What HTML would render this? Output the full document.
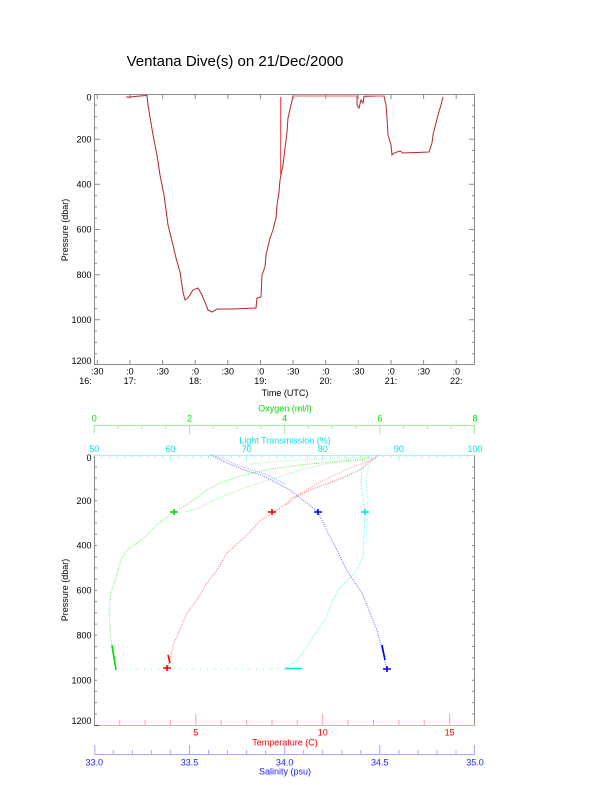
<!DOCTYPE html>
<html><head><meta charset="utf-8">
<style>
html,body{margin:0;padding:0;background:#fff;}
svg{display:block;font-family:"Liberation Sans",Arial,sans-serif;}
</style></head>
<body>
<svg width="612" height="785" viewBox="0 0 612 785" xmlns="http://www.w3.org/2000/svg">
<rect width="612" height="785" fill="#fff"/>
<!-- Title -->
<text x="235" y="66" font-size="15" text-anchor="middle" fill="#000">Ventana Dive(s) on 21/Dec/2000</text>

<!-- ============ TOP PLOT ============ -->
<g stroke="#8c8c8c" stroke-width="1" fill="none">
<rect x="94.5" y="94.5" width="380" height="270"/>
<path d="M94 105.3h3M94 116.6h3M94 127.9h3M94 139.2h6M94 150.5h3M94 161.7h3M94 173h3M94 184.3h6M94 195.6h3M94 206.9h3M94 218.2h3M94 229.5h6M94 240.8h3M94 252.1h3M94 263.4h3M94 274.7h6M94 286h3M94 297.3h3M94 308.5h3M94 319.8h6M94 331.1h3M94 342.4h3M94 353.7h3"/>
<path d="M475 105.3h-3M475 116.6h-3M475 127.9h-3M475 139.2h-6M475 150.5h-3M475 161.7h-3M475 173h-3M475 184.3h-6M475 195.6h-3M475 206.9h-3M475 218.2h-3M475 229.5h-6M475 240.8h-3M475 252.1h-3M475 263.4h-3M475 274.7h-6M475 286h-3M475 297.3h-3M475 308.5h-3M475 319.8h-6M475 331.1h-3M475 342.4h-3M475 353.7h-3"/>
<path d="M97.3 94v5M129.9 94v5M162.6 94v5M195.2 94v5M227.8 94v5M260.5 94v5M293.1 94v5M325.7 94v5M358.3 94v5M391 94v5M423.6 94v5M456.2 94v5"/>
<path d="M97.3 365v-5M129.9 365v-5M162.6 365v-5M195.2 365v-5M227.8 365v-5M260.5 365v-5M293.1 365v-5M325.7 365v-5M358.3 365v-5M391 365v-5M423.6 365v-5M456.2 365v-5"/>
</g>
<g font-size="9" fill="#000" text-anchor="end">
<text x="91.5" y="100.5">0</text>
<text x="91.5" y="142.4">200</text>
<text x="91.5" y="187.5">400</text>
<text x="91.5" y="232.7">600</text>
<text x="91.5" y="277.9">800</text>
<text x="91.5" y="323">1000</text>
<text x="91.5" y="364.2">1200</text>
</g>
<g font-size="9" fill="#000" text-anchor="middle">
<text x="97.3" y="374.5">:30</text>
<text x="129.9" y="374.5">:0</text>
<text x="162.6" y="374.5">:30</text>
<text x="195.2" y="374.5">:0</text>
<text x="227.8" y="374.5">:30</text>
<text x="260.5" y="374.5">:0</text>
<text x="293.1" y="374.5">:30</text>
<text x="325.7" y="374.5">:0</text>
<text x="358.3" y="374.5">:30</text>
<text x="391" y="374.5">:0</text>
<text x="423.6" y="374.5">:30</text>
<text x="456.2" y="374.5">:0</text>
<text x="85.5" y="384.2">16:</text>
<text x="129.9" y="384.2">17:</text>
<text x="195.2" y="384.2">18:</text>
<text x="260.5" y="384.2">19:</text>
<text x="325.7" y="384.2">20:</text>
<text x="391" y="384.2">21:</text>
<text x="456.2" y="384.2">22:</text>
<text x="285" y="396">Time (UTC)</text>
<text transform="translate(68,230) rotate(-90)">Pressure (dbar)</text>
<text transform="translate(68,590) rotate(-90)">Pressure (dbar)</text>
</g>
<!-- top plot trace -->
<polyline fill="none" stroke="#b02828" stroke-width="1" points="126,97 130,97 140,96 147,95.5 148,105 150,117 153,135 157,155 160,175 164,195 168,225 173,245 176,258 180,272 183,292 185,300 188,298 193,290 198,288 202,295 205,302 208,310 212,312 217,309 233,309 256,308 257,298 261,297 262,275 265,267 266,255 270,238 273,230 276,218 277,205 279,192 280,180 281,175 283,165 285,148 287,132 288,118 291,105 293,96 357,96 357,105 359,108 361,100 363,103 364,96.5 384,96 386,105 387,118 388,135 391,145 392,155 394,153 400,151 403,153 429,152 432,143 433,135 435,127 438,115 441,105 443,97"/>
<path d="M280.7 97V175" stroke="#f03030" stroke-width="1"/>
<path d="M293 96H357M364 96H384" stroke="#f06060" stroke-width="1"/>

<!-- ============ BOTTOM PLOT ============ -->
<!-- oxygen axis -->
<g stroke="#a0eca0" stroke-width="1" fill="none">
<path d="M94.3 425.5H475"/>
<path d="M94.3 425v9M118.1 425v4M141.9 425v4M165.7 425v4M189.5 425v9M213.3 425v4M237.1 425v4M260.8 425v4M284.6 425v9M308.4 425v4M332.2 425v4M356 425v4M379.8 425v9M403.6 425v4M427.4 425v4M451.2 425v4M474.5 425v9"/>
</g>
<g font-size="9" fill="#00dd00" text-anchor="middle">
<text x="94.3" y="421.5">0</text>
<text x="189.5" y="421.5">2</text>
<text x="284.6" y="421.5">4</text>
<text x="379.8" y="421.5">6</text>
<text x="475" y="421.5">8</text>
<text x="285" y="411.5">Oxygen (ml/l)</text>
</g>
<!-- light transmission axis (top of plot) -->
<g stroke="#9cf6f6" stroke-width="1" fill="none">
<path d="M94.3 455.5H475"/>
<path d="M94.3 455v6M101.9 455v3M109.5 455v3M117.1 455v3M124.8 455v3M132.4 455v3M140 455v3M147.6 455v3M155.2 455v3M162.8 455v3M170.4 455v6M178.1 455v3M185.7 455v3M193.3 455v3M200.9 455v3M208.5 455v3M216.1 455v3M223.7 455v3M231.3 455v3M239 455v3M246.6 455v6M254.2 455v3M261.8 455v3M269.4 455v3M277 455v3M284.7 455v3M292.3 455v3M299.9 455v3M307.5 455v3M315.1 455v3M322.7 455v6M330.3 455v3M338 455v3M345.6 455v3M353.2 455v3M360.8 455v3M368.4 455v3M376 455v3M383.6 455v3M391.2 455v3M398.9 455v6M406.5 455v3M414.1 455v3M421.7 455v3M429.3 455v3M436.9 455v3M444.5 455v3M452.2 455v3M459.8 455v3M467.4 455v3"/>
</g>
<g font-size="9" fill="#10e0e0" text-anchor="middle">
<text x="94.3" y="452">50</text>
<text x="170.4" y="452">60</text>
<text x="246.6" y="452">70</text>
<text x="322.7" y="452">80</text>
<text x="398.9" y="452">90</text>
<text x="475" y="452">100</text>
<text x="285" y="443.5">Light Transmission (%)</text>
</g>
<!-- left / right axes -->
<g stroke="#8c8c8c" stroke-width="1" fill="none">
<path d="M94.5 455.5V725M474.5 455.5V725"/>
<path d="M94 466.9h3M94 478.1h3M94 489.4h3M94 500.6h3M94 511.8h3M94 523h3M94 534.3h3M94 545.5h3M94 556.7h3M94 567.9h3M94 579.2h3M94 590.4h3M94 601.6h3M94 612.8h3M94 624.1h3M94 635.3h3M94 646.5h3M94 657.7h3M94 669h3M94 680.2h3M94 691.4h3M94 702.6h3M94 713.9h3"/>
<path d="M475 466.9h-3M475 478.1h-3M475 489.4h-3M475 500.6h-3M475 511.8h-3M475 523h-3M475 534.3h-3M475 545.5h-3M475 556.7h-3M475 567.9h-3M475 579.2h-3M475 590.4h-3M475 601.6h-3M475 612.8h-3M475 624.1h-3M475 635.3h-3M475 646.5h-3M475 657.7h-3M475 669h-3M475 680.2h-3M475 691.4h-3M475 702.6h-3M475 713.9h-3"/>
</g>
<g font-size="9" fill="#000" text-anchor="end">
<text x="91.5" y="461.2">0</text>
<text x="91.5" y="503.8">200</text>
<text x="91.5" y="548.7">400</text>
<text x="91.5" y="593.6">600</text>
<text x="91.5" y="638.5">800</text>
<text x="91.5" y="683.4">1000</text>
<text x="91.5" y="724.2">1200</text>
</g>
<!-- temperature axis -->
<g stroke="#f4a4a4" stroke-width="1" fill="none">
<path d="M94.3 725.5H475"/>
<path d="M119.7 725v-5M145.1 725v-5M170.4 725v-5M195.8 725v-11M221.2 725v-5M246.6 725v-5M272 725v-5M297.3 725v-5M322.7 725v-11M348.1 725v-5M373.5 725v-5M398.9 725v-5M424.2 725v-5M449.6 725v-11"/>
</g>
<path d="M94 725.5h5" stroke="#a04040" stroke-width="1"/>
<g font-size="9" fill="#f00000" text-anchor="middle">
<text x="195.8" y="735.5">5</text>
<text x="322.7" y="735.5">10</text>
<text x="449.6" y="735.5">15</text>
<text x="285" y="745.5">Temperature (C)</text>
</g>
<!-- salinity axis -->
<g stroke="#a8a8f4" stroke-width="1" fill="none">
<path d="M94.3 754.5H475"/>
<path d="M94.8 754v-9M113.3 754v-4M132.4 754v-4M151.4 754v-4M170.4 754v-4M189.5 754v-9M208.5 754v-4M227.5 754v-4M246.6 754v-4M265.6 754v-4M284.7 754v-9M303.7 754v-4M322.7 754v-4M341.8 754v-4M360.8 754v-4M379.8 754v-9M398.9 754v-4M417.9 754v-4M436.9 754v-4M456 754v-4M474.5 754v-9"/>
</g>
<g font-size="9" fill="#2020ff" text-anchor="middle">
<text x="94.3" y="765.5">33.0</text>
<text x="189.5" y="765.5">33.5</text>
<text x="284.7" y="765.5">34.0</text>
<text x="379.8" y="765.5">34.5</text>
<text x="475" y="765.5">35.0</text>
<text x="285" y="774.5">Salinity (psu)</text>
</g>

<!-- profiles -->
<g fill="none" stroke-width="1" stroke-dasharray="1 1.3">
<!-- oxygen (green) -->
<polyline stroke="#66ee66" points="372,458 340,461 300,465 270,469 240,476 220,483 205,491 195,499 185,506 174,512 160,522 144,538 127,550 121,560 116,577 111,593 109,610 110,627 112,650 115,663 116,670"/>
<polyline stroke="#99f299" points="365,460 330,463 300,470 275,478 250,486 228,494 212,501 198,508 186,512"/>
<polyline stroke="#aaf5aa" points="370,457 320,459 280,461 250,464"/>
<!-- temperature (red) -->
<polyline stroke="#ff6a6a" points="378,455 360,470 337,480 310,490 292,498 287,503 274,512 261,520 247,535 227,553 217,570 207,583 197,600 187,613 181,627 174,643 169,663 167,670"/>
<polyline stroke="#ff9c9c" points="376,458 350,468 320,482 300,494 285,506"/>
<!-- salinity (blue) -->
<polyline stroke="#6a6aff" points="211,455 227,463 244,470 261,475 277,483 290,490 303,500 318,512 328,533 337,550 345,567 353,580 362,593 370,613 377,630 383,653 387,670"/>
<polyline stroke="#a0a0ff" points="216,456 240,466 265,474 285,484"/>
<!-- light transmission (cyan) -->
<polyline stroke="#55f5f5" points="378,456 362,465 361,483 363,500 365,512 364,533 363,557 357,570 350,578 340,587 333,600 325,620 313,637 305,650 297,660 287,668"/>
<polyline stroke="#88f8f8" points="370,460 366,480 368,500 367,520 366,545"/>
<polyline stroke="#66f4f4" stroke-dasharray="1 6" points="116,669 300,669"/>
</g>
<!-- markers -->
<g stroke-width="1.6" fill="none">
<path d="M170 512h8M174 509v6" stroke="#00dd00"/>
<path d="M112 645l4 25" stroke="#00dd00"/>
<path d="M268 512h8M272 509v6" stroke="#ee0000"/>
<path d="M163 668h8M167 665v6M168 655l2 8" stroke="#ee0000"/>
<path d="M314 512h8M318 509v6" stroke="#0000ee"/>
<path d="M383 669h8M387 666v6M382 645l3 15" stroke="#0000ee"/>
<path d="M361 512h8M365 509v6" stroke="#00e6e6"/>
<path d="M285 668.5h17" stroke="#00e6e6"/>
</g>
</svg>
</body></html>
